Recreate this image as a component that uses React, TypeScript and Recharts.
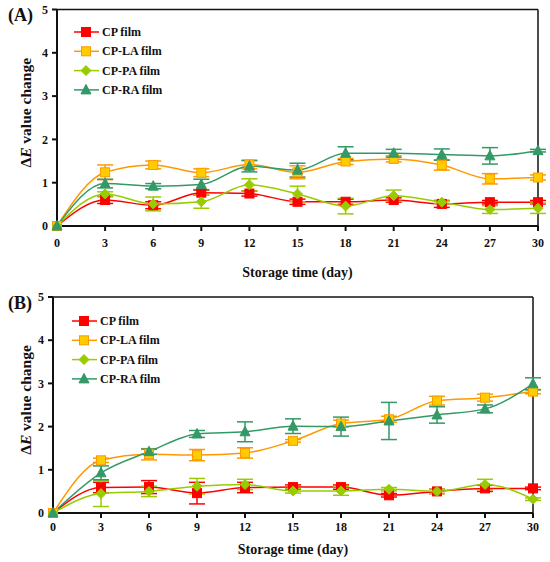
import React from 'react';
import { LineChart, Line, XAxis, YAxis, ErrorBar, ReferenceLine, Legend } from 'recharts';

const days = [0, 3, 6, 9, 12, 15, 18, 21, 24, 27, 30];
const dayTicks = [0, 3, 6, 9, 12, 15, 18, 21, 24, 27, 30];
const valueTicks = [0, 1, 2, 3, 4, 5];
const seriesNames = ['CP film', 'CP-LA film', 'CP-PA film', 'CP-RA film'];

// panel A
const aCp = [0, 0.6, 0.48, 0.77, 0.75, 0.56, 0.56, 0.6, 0.51, 0.55, 0.55];
const aCpErr = [0, 0.08, 0.08, 0.06, 0.06, 0.06, 0.06, 0.05, 0.08, 0.04, 0.04];
const aLa = [0, 1.24, 1.41, 1.23, 1.42, 1.24, 1.49, 1.55, 1.41, 1.09, 1.12];
const aLaErr = [0, 0.17, 0.09, 0.09, 0.1, 0.15, 0.07, 0.07, 0.12, 0.12, 0.06];
const aPa = [0, 0.74, 0.51, 0.56, 0.95, 0.74, 0.46, 0.7, 0.55, 0.38, 0.41];
const aPaErr = [0, 0.05, 0.16, 0.15, 0.14, 0.18, 0.18, 0.13, 0.03, 0.09, 0.12];
const aRa = [0, 0.98, 0.92, 0.96, 1.38, 1.29, 1.68, 1.68, 1.65, 1.62, 1.74];
const aRaErr = [0, 0.1, 0.06, 0.12, 0.13, 0.16, 0.15, 0.09, 0.13, 0.19, 0.03];

// panel B
const bCp = [0, 0.59, 0.6, 0.46, 0.59, 0.6, 0.6, 0.41, 0.5, 0.57, 0.57];
const bCpErr = [0, 0.12, 0.15, 0.25, 0.12, 0.05, 0.05, 0.04, 0.05, 0.07, 0.03];
const bLa = [0, 1.22, 1.36, 1.34, 1.39, 1.67, 2.07, 2.17, 2.6, 2.67, 2.81];
const bLaErr = [0, 0.05, 0.13, 0.13, 0.12, 0.03, 0.08, 0.07, 0.1, 0.08, 0.05];
const bPa = [0, 0.45, 0.5, 0.62, 0.66, 0.51, 0.51, 0.55, 0.5, 0.66, 0.32];
const bPaErr = [0, 0.3, 0.12, 0.18, 0.12, 0.05, 0.1, 0.04, 0.05, 0.12, 0.03];
const bRa = [0, 0.93, 1.42, 1.83, 1.88, 2.01, 2.0, 2.13, 2.27, 2.41, 2.99];
const bRaErr = [0, 0.16, 0.06, 0.08, 0.23, 0.17, 0.22, 0.43, 0.19, 0.09, 0.14];

const FONT = 'Liberation Serif';

const styles = [
  { key: 'cp', line: '#FF0000', fill: '#FF0000', shape: 'square' },
  { key: 'la', line: '#FF9900', fill: '#FFCC00', shape: 'square' },
  { key: 'pa', line: '#99CC00', fill: '#99CC00', shape: 'diamond' },
  { key: 'ra', line: '#339966', fill: '#339966', shape: 'triangle' },
];

function buildRows(cp, cpE, la, laE, pa, paE, ra, raE) {
  return days.map((d, i) => ({
    day: d,
    cp: cp[i], cpErr: cpE[i],
    la: la[i], laErr: laE[i],
    pa: pa[i], paErr: paE[i],
    ra: ra[i], raErr: raE[i],
  }));
}

const dataA = buildRows(aCp, aCpErr, aLa, aLaErr, aPa, aPaErr, aRa, aRaErr);
const dataB = buildRows(bCp, bCpErr, bLa, bLaErr, bPa, bPaErr, bRa, bRaErr);

function Marker({ shape, cx, cy, fill, stroke }) {
  if (shape === 'square') {
    return <rect x={cx - 4.5} y={cy - 4.5} width={9} height={9} fill={fill} stroke={stroke} strokeWidth={1} />;
  }
  if (shape === 'diamond') {
    return <polygon points={`${cx},${cy - 5} ${cx + 5},${cy} ${cx},${cy + 5} ${cx - 5},${cy}`} fill={fill} stroke={stroke} strokeWidth={1} />;
  }
  return <polygon points={`${cx},${cy - 5.5} ${cx + 5},${cy + 4} ${cx - 5},${cy + 4}`} fill={fill} stroke={stroke} strokeWidth={1} />;
}

const makeDot = (s) => (props) => {
  const { cx, cy, index } = props;
  if (cx == null || cy == null) return null;
  return <Marker key={`${s.key}-${index}`} shape={s.shape} cx={cx} cy={cy} fill={s.fill} stroke={s.line} />;
};

const LegendBox = () => (
  <svg width={110} height={80} style={{ display: 'block' }}>
    {styles.map((s, i) => {
      const y = 6 + i * 19.3;
      return (
        <g key={s.key}>
          <line x1={2} x2={27} y1={y} y2={y} stroke={s.line} strokeWidth={1.5} />
          <Marker shape={s.shape} cx={14} cy={y} fill={s.fill} stroke={s.line} />
          <text x={30} y={y + 4} fontFamily={FONT} fontWeight="bold" fontSize={12} fill="#111">
            {seriesNames[i]}
          </text>
        </g>
      );
    })}
  </svg>
);

const YTitle = ({ viewBox }) => {
  const cx = 25;
  const cy = viewBox.y + viewBox.height / 2 - 5;
  return (
    <text
      x={cx}
      y={cy}
      transform={`rotate(-90, ${cx}, ${cy})`}
      textAnchor="middle"
      dominantBaseline="central"
      fontFamily={FONT}
      fontWeight="bold"
      fontSize={15.5}
      fill="#111"
    >
      Δ<tspan fontStyle="italic">E</tspan> value change
    </text>
  );
};

const tickStyle = { fontFamily: FONT, fontWeight: 'bold', fontSize: 12, fill: '#111' };

function Panel({ data, top, margin, yWidth, xTickMargin, titleOffset, legendPos, tag }) {
  return (
    <div style={{ position: 'absolute', left: 0, top, width: 550, height: 281 }}>
      <LineChart width={550} height={281} data={data} margin={margin}>
        <XAxis
          dataKey="day"
          type="number"
          domain={[0, 30]}
          ticks={dayTicks}
          tick={tickStyle}
          tickSize={5}
          tickMargin={xTickMargin}
          height={30}
          stroke="#111"
          strokeWidth={2}
          label={{
            value: 'Storage time (day)',
            position: 'insideBottom',
            offset: titleOffset,
            style: { fontFamily: FONT, fontWeight: 'bold', fontSize: 14, fill: '#111' },
          }}
        />
        <YAxis
          type="number"
          domain={[0, 5]}
          ticks={valueTicks}
          tick={tickStyle}
          tickSize={5}
          tickMargin={4}
          width={yWidth}
          stroke="#111"
          strokeWidth={2}
          label={{ content: (p) => <YTitle viewBox={p.viewBox} /> }}
        />
        <ReferenceLine y={5} stroke="#111" strokeWidth={1.5} />
        <ReferenceLine x={30} stroke="#111" strokeWidth={1.5} />
        {styles.map((s) => (
          <Line
            key={s.key}
            dataKey={s.key}
            type="monotone"
            stroke={s.line}
            strokeWidth={1.5}
            dot={makeDot(s)}
            activeDot={false}
            isAnimationActive={false}
          >
            <ErrorBar dataKey={`${s.key}Err`} width={8} stroke={s.line} strokeWidth={1.5} direction="y" />
          </Line>
        ))}
        <Legend
          layout="vertical"
          align="center"
          verticalAlign="middle"
          content={() => <LegendBox />}
          wrapperStyle={{ left: legendPos.left, top: legendPos.top, width: 110, height: 80 }}
        />
      </LineChart>
      <div
        style={{
          position: 'absolute',
          left: tag.left,
          top: tag.top,
          fontFamily: FONT,
          fontWeight: 'bold',
          fontSize: 18,
          color: '#111',
          lineHeight: 1,
        }}
      >
        {tag.text}
      </div>
    </div>
  );
}

export default function App() {
  return (
    <div style={{ position: 'absolute', left: 0, top: 0, width: 550, height: 562, background: '#fff', fontFamily: FONT }}>
      <Panel
        data={dataA}
        top={0}
        margin={{ top: 9.5, right: 12, bottom: 25, left: 0 }}
        yWidth={57}
        xTickMargin={7}
        titleOffset={-21}
        legendPos={{ left: 72, top: 26 }}
        tag={{ text: '(A)', left: 8, top: 6 }}
      />
      <Panel
        data={dataB}
        top={281}
        margin={{ top: 16, right: 17, bottom: 19, left: 0 }}
        yWidth={53}
        xTickMargin={4}
        titleOffset={-11}
        legendPos={{ left: 70, top: 34 }}
        tag={{ text: '(B)', left: 8, top: 13 }}
      />
    </div>
  );
}
